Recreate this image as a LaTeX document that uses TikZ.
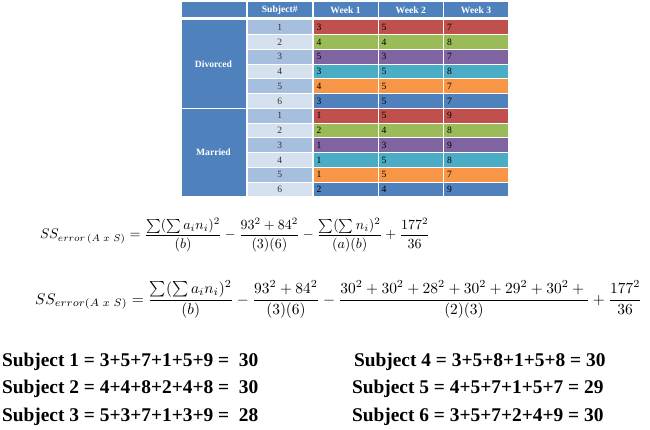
\documentclass[tikz,border=0pt]{standalone}
\usepackage{fontspec}
\setmainfont{Liberation Serif}
\usepackage{amsmath}
\usepackage{graphicx}
\definecolor{hdr}{HTML}{4F81BD}
\definecolor{subA}{HTML}{A7BFDE}
\definecolor{subB}{HTML}{D6E1EF}
\definecolor{cR}{HTML}{C0504D}
\definecolor{cG}{HTML}{9BBB59}
\definecolor{cP}{HTML}{8064A2}
\definecolor{cT}{HTML}{4BACC6}
\definecolor{cO}{HTML}{F79646}
\definecolor{cB}{HTML}{4F81BD}
\newcommand{\tabfont}{\fontsize{9.6}{10}\selectfont}
\tikzset{
  cell/.style={draw=white, line width=1pt, inner xsep=0pt, inner ysep=0pt, outer sep=0pt,
    anchor=north west, font=\tabfont, text=black},
  hcell/.style={cell, fill=hdr, minimum height=16.5pt, text=white, font=\tabfont\bfseries},
  gcell/.style={cell, fill=hdr, minimum width=65pt, minimum height=88.38pt, text=white, font=\tabfont\bfseries},
  scell/.style={cell, minimum width=64.5pt, minimum height=14.73pt, text=black!80},
  wcell/.style={cell, minimum height=14.73pt, align=left, inner xsep=3.5pt},
  eqn/.style={anchor=base west, inner sep=0pt, outer sep=0pt},
  sumtxt/.style={anchor=base west, inner sep=0pt, outer sep=0pt, font=\fontsize{19.4}{22}\selectfont\bfseries}
}
\begin{document}
\begin{tikzpicture}[x=1pt,y=-1pt]
\useasboundingbox (0,0) rectangle (650,430);
% header
\node[hcell, minimum width=65pt] (h0) at (181,1.5) {};
\node[hcell, minimum width=64.5pt] (h1) at (247.5,1.5) {Subject\#};
\node[hcell, minimum width=65pt] (h2) at (313,1.5) {Week 1};
\node[hcell, minimum width=65.5pt] (h3) at (378,1.5) {Week 2};
\node[hcell, minimum width=65pt] (h4) at (443.5,1.5) {Week 3};
% groups
\node[gcell] (div) at (181,20) {Divorced};
\node[gcell] (mar) at (181,108.38) {Married};
% rows
\foreach \i/\s/\c/\a/\b/\d/\sc in {
  1/1/cR/3/5/7/subA, 2/2/cG/4/4/8/subB, 3/3/cP/5/3/7/subA,
  4/4/cT/3/5/8/subB, 5/5/cO/4/5/7/subA, 6/6/cB/3/5/7/subB,
  7/1/cR/1/5/9/subA, 8/2/cG/2/4/8/subB, 9/3/cP/1/3/9/subA,
  10/4/cT/1/5/8/subB, 11/5/cO/1/5/7/subA, 12/6/cB/2/4/9/subB}{
  \pgfmathsetmacro{\yy}{20+(\i-1)*14.73}
  \node[scell, fill=\sc] (s\i) at (247.5,\yy) {\s};
  \node[wcell, fill=\c, text width=58pt] (wa\i) at (313,\yy) {\a};
  \node[wcell, fill=\c, text width=58.5pt] (wb\i) at (378,\yy) {\b};
  \node[wcell, fill=\c, text width=58pt] (wc\i) at (443.5,\yy) {\d};
}
% equations
\node[eqn] (eq1) at (40,239) {\resizebox{390pt}{!}{$\displaystyle SS_{error\,(A\ x\ S)}=\frac{\sum(\sum a_in_i)^2}{(b)}-\frac{93^2+84^2}{(3)(6)}-\frac{\sum(\sum n_i)^2}{(a)(b)}+\frac{177^2}{36}$}};
\node[eqn] (eq2) at (35,304) {\resizebox{607pt}{!}{$\displaystyle SS_{error(A\ x\ S)}=\frac{\sum(\sum a_in_i)^2}{(b)}-\frac{93^2+84^2}{(3)(6)}-\frac{30^2+30^2+28^2+30^2+29^2+30^2+{}}{(2)(3)}+\frac{177^2}{36}$}};
% sums
\node[sumtxt] (l1) at (2,366) {Subject 1 = 3+5+7+1+5+9 =\ \ 30};
\node[sumtxt] (l2) at (2,393.5) {Subject 2 = 4+4+8+2+4+8 =\ \ 30};
\node[sumtxt] (l3) at (2,421.5) {Subject 3 = 5+3+7+1+3+9 =\ \ 28};
\node[sumtxt] (r1) at (354,366) {Subject 4 = 3+5+8+1+5+8 = 30};
\node[sumtxt] (r2) at (352,393.5) {Subject 5 = 4+5+7+1+5+7 = 29};
\node[sumtxt] (r3) at (352,421.5) {Subject 6 = 3+5+7+2+4+9 = 30};
\end{tikzpicture}
\end{document}
